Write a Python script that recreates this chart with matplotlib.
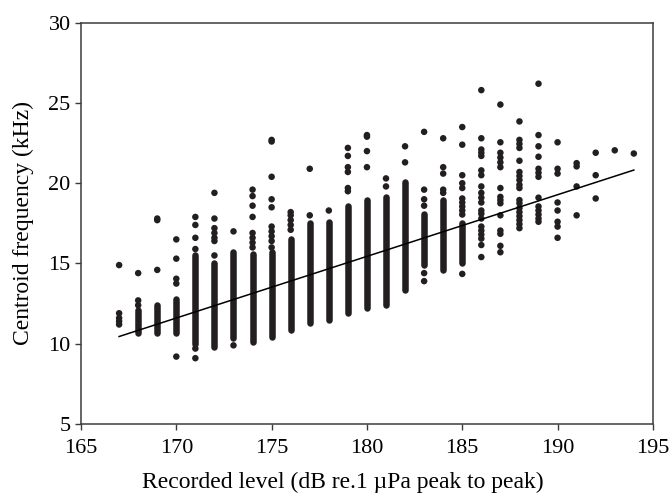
import numpy as np
import matplotlib.pyplot as plt

plt.rcParams['font.family'] = ['Liberation Serif', 'DejaVu Serif']

# recorded level columns (dB)
levels = list(range(167, 195))

# continuous runs of overlapping points in each column (lo, hi); None = no run
run_lo = [None, 10.7, 10.7, 10.65, 10.0, 9.8, 10.35, 10.1, 10.45, 10.85,
          11.3, 11.45, 11.9, 12.2, 12.4, 13.35, 14.9, 14.6, 15.0,
          None, None, None, None, None, None, None, None, None]
run_hi = [None, 12.1, 12.4, 12.8, 15.5, 15.0, 15.7, 15.6, 15.7, 16.5,
          17.5, 17.6, 18.6, 18.95, 19.15, 20.1, 18.1, 18.95, 17.5,
          None, None, None, None, None, None, None, None, None]

# separate points in each column (kHz)
single_pts = [
    [14.9, 11.9, 11.6, 11.4, 11.2],
    [14.4, 12.7, 12.4],
    [17.8, 17.7, 14.6],
    [16.5, 15.3, 14.05, 13.75, 9.2],
    [17.9, 17.4, 16.6, 15.9, 9.7, 9.1],
    [19.4, 17.8, 17.2, 16.9, 16.6, 16.4, 15.5],
    [17.0, 9.9],
    [19.6, 19.2, 18.6, 17.9, 16.9, 16.6, 16.3, 16.0],
    [22.7, 22.6, 20.4, 19.0, 18.5, 17.3, 17.0, 16.7, 16.4, 16.0],
    [18.2, 18.0, 17.7, 17.4, 17.1],
    [20.9, 18.0],
    [18.3],
    [22.2, 21.7, 21.0, 20.7, 19.7, 19.5],
    [23.0, 22.9, 22.0, 21.0],
    [20.3, 19.8],
    [22.3, 21.3],
    [23.2, 19.6, 19.0, 18.6, 14.4, 13.9],
    [22.8, 21.0, 20.6, 19.6, 19.4],
    [23.5, 22.4, 20.5, 20.0, 19.7, 19.05, 18.8, 18.55, 18.3, 18.05, 14.35],
    [25.8, 22.8, 22.1, 21.9, 21.7, 20.8, 20.5, 19.8, 19.4, 19.1, 18.8,
     18.3, 18.1, 17.8, 17.3, 17.05, 16.8, 16.55, 16.15, 15.4],
    [24.9, 22.55, 21.9, 21.6, 21.3, 21.0, 19.7, 19.15, 18.95, 18.75, 18.0,
     17.05, 16.85, 16.1, 15.7],
    [23.85, 22.7, 22.45, 22.2, 21.4, 20.7, 20.45, 20.2, 19.9, 19.7, 18.95,
     18.75, 18.45, 18.2, 17.95, 17.7, 17.45, 17.2],
    [26.2, 23.0, 22.3, 21.65, 20.9, 20.65, 20.4, 19.1, 18.55, 18.3, 18.05,
     17.8, 17.6],
    [22.55, 20.9, 20.6, 18.8, 18.3, 17.6, 17.3, 16.6],
    [21.25, 21.05, 19.8, 18.0],
    [21.9, 20.5, 19.05],
    [22.05],
    [21.85],
]

# fitted regression line end points
fit_x = [167, 194]
fit_y = [10.45, 20.82]

dot_color = '#231f20'

fig = plt.figure(figsize=(6.71, 4.98), dpi=100)
ax = fig.add_axes([0.1207, 0.1486, 0.8523, 0.8058])

for lvl, lo, hi, pts in zip(levels, run_lo, run_hi, single_pts):
    if lo is not None:
        ax.vlines(lvl, lo, hi, colors=dot_color, linewidth=4.7,
                  capstyle='round')
    ax.scatter([lvl] * len(pts), pts, s=22, color=dot_color,
               edgecolors='none', zorder=3)

ax.plot(fit_x, fit_y, color='black', linewidth=1.1, zorder=4)

ax.set_xlim(165, 195)
ax.set_ylim(5, 30)
ax.set_xticks(range(165, 196, 5))
ax.set_yticks(range(5, 31, 5))
ax.tick_params(direction='out', length=4, width=1, colors='#3c3c3c',
               labelsize=16, labelcolor='black')
ax.tick_params(axis='x', pad=7)
ax.tick_params(axis='y', pad=3.5)
for sp in ax.spines.values():
    sp.set_color('#3c3c3c')
    sp.set_linewidth(1.1)

ax.set_xlabel('Recorded level (dB re.1 \u00b5Pa peak to peak)', fontsize=17)
ax.set_ylabel('Centroid frequency (kHz)', fontsize=17)
ax.xaxis.set_label_coords(0.458, -0.12)
ax.yaxis.set_label_coords(-0.083, 0.5)

fig.savefig('out.png', dpi=100)
